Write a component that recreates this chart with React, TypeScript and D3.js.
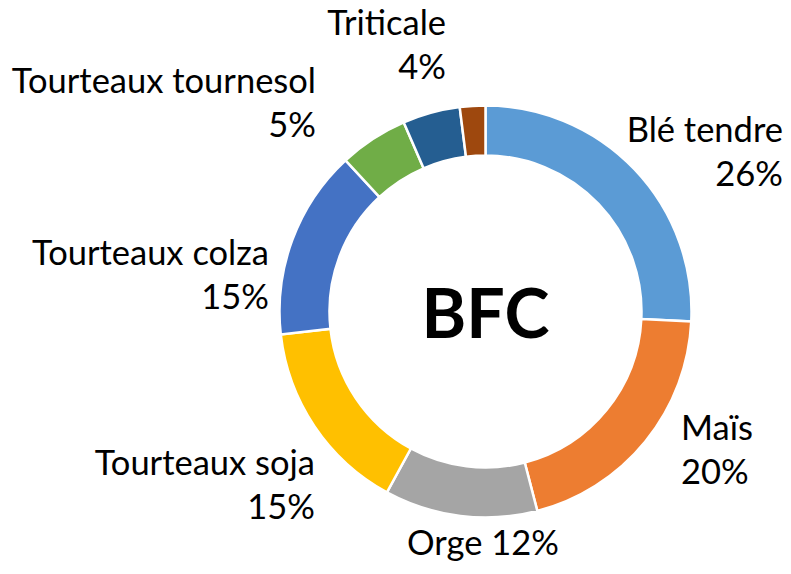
import React from "react";
import * as d3 from "d3";

const categories = [
  "Blé tendre",
  "Maïs",
  "Orge",
  "Tourteaux soja",
  "Tourteaux colza",
  "Tourteaux tournesol",
  "Triticale",
  "Autres",
];
const values = [25.8, 20.2, 12.0, 15.3, 14.9, 5.4, 4.5, 2.0];
const percentLabels = ["26%", "20%", "12%", "15%", "15%", "5%", "4%", ""];
const colors = [
  "#5B9BD5",
  "#ED7D31",
  "#A5A5A5",
  "#FFC000",
  "#4472C4",
  "#70AD47",
  "#255E91",
  "#9E480E",
];
const centerTitle = "BFC";

// label layout (anchor point, text-anchor, single-line or two lines)
const labelLayout: { x: number; y: number; anchor: string; oneLine?: boolean }[] = [
  { x: 783, y: 142, anchor: "end" },
  { x: 681, y: 440, anchor: "start" },
  { x: 483, y: 555, anchor: "middle", oneLine: true },
  { x: 315, y: 475, anchor: "end" },
  { x: 269, y: 265, anchor: "end" },
  { x: 316, y: 93, anchor: "end" },
  { x: 446, y: 35, anchor: "end" },
  { x: 0, y: 0, anchor: "end" },
];

const W = 791;
const H = 574;
const CX = 485.5;
const CY = 311.5;
const R_OUT = 206;
const R_IN = 156;
const FONT = "Lato, 'Open Sans', sans-serif";
const FS = 34.5;
const LINE = 44;

export default function App() {
  const pie = d3
    .pie<number>()
    .sort(null)
    .value((d) => d)(values);
  const arc = d3.arc<d3.PieArcDatum<number>>().innerRadius(R_IN).outerRadius(R_OUT);

  return (
    <svg
      width={W}
      height={H}
      style={{ position: "absolute", left: 0, top: 0, background: "#fff" }}
    >
      <g transform={`translate(${CX},${CY})`}>
        {pie.map((p, i) => (
          <path
            key={categories[i]}
            d={arc(p) || ""}
            fill={colors[i]}
            stroke="#fff"
            strokeWidth={2.5}
          />
        ))}
      </g>
      {categories.map((c, i) => {
        const L = labelLayout[i];
        if (!percentLabels[i]) return null;
        if (L.oneLine) {
          return (
            <text
              key={c}
              x={L.x}
              y={L.y}
              textAnchor={L.anchor}
              fontFamily={FONT}
              fontSize={FS}
              fill="#000"
            >
              {`${c} ${percentLabels[i]}`}
            </text>
          );
        }
        return (
          <text
            key={c}
            textAnchor={L.anchor}
            fontFamily={FONT}
            fontSize={FS}
            fill="#000"
          >
            <tspan x={L.x} y={L.y}>
              {c}
            </tspan>
            <tspan x={L.x} y={L.y + LINE}>
              {percentLabels[i]}
            </tspan>
          </text>
        );
      })}
      <text
        x={CX}
        y={338}
        textAnchor="middle"
        fontFamily={FONT}
        fontWeight="bold"
        fontSize={68}
        fill="#000"
      >
        {centerTitle}
      </text>
    </svg>
  );
}
